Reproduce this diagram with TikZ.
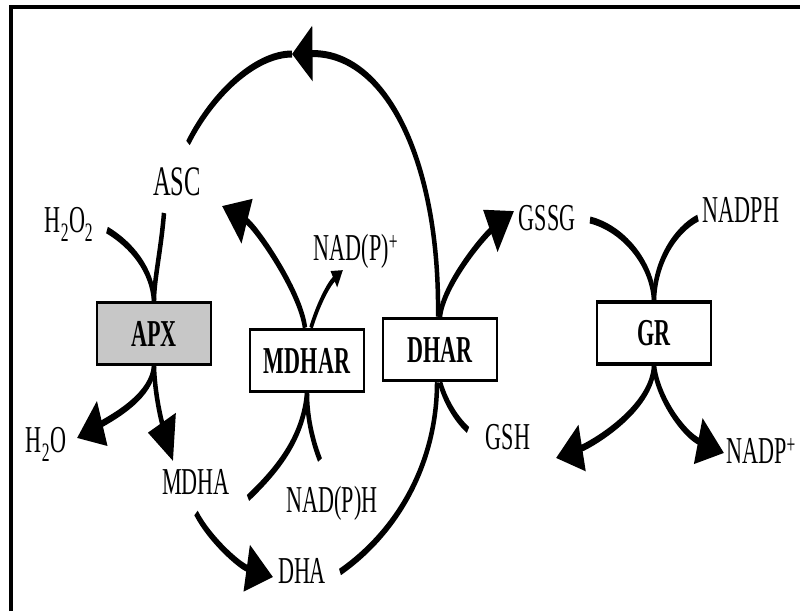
\documentclass[tikz,border=0pt]{standalone}
\usepackage{fontspec}
\setmainfont{Liberation Serif}[FakeStretch=0.91]
\usetikzlibrary{arrows.meta,calc}
\begin{document}
\begin{tikzpicture}[x=1pt,y=-1pt]
\useasboundingbox (0,0) rectangle (800,611);
\draw[line width=4pt] (10.5,611) -- (10.5,7) -- (800,7);
\begin{scope}[transform canvas={xscale=0.64}, x=1.5625pt, y=-1pt,
  lab/.style={inner sep=0pt, anchor=base, font=\fontsize{38}{42}\selectfont},
  enz/.style={draw, line width=3.5pt, minimum width=178pt, minimum height=62pt, inner sep=0pt, font=\fontsize{38}{42}\selectfont\bfseries},
  flow/.style={line width=7pt},
  arr/.style={flow, -{Triangle[length=42pt,width=46pt]}},
  smallarr/.style={line width=5.5pt, -{Triangle[length=17pt,width=18pt]}},
  toparr/.style={flow, -{Triangle[length=32pt,width=54pt]}}]
% enzymes
\node[enz, fill=black!22] (APX) at (154,333.5) {APX};
\node[enz] (MDHAR) at (307,360.5) {MDHAR};
\node[enz] (DHAR) at (440,349.5) {DHAR};
\node[enz] (GR) at (654,333) {GR};
% labels
\node[lab] (ASC) at (177,195) {\fontsize{42}{44}\selectfont ASC};
\node[lab] (H2O2) at (69,232) {H\textsubscript{2}O\textsubscript{2}};
\node[lab] (H2O) at (46,452) {H\textsubscript{2}O};
\node[lab] (MDHA) at (196,494) {MDHA};
\node[lab] (NADPp) at (356,260) {NAD(P)\textsuperscript{+}};
\node[lab] (NADPHa) at (332,512) {NAD(P)H};
\node[lab] (DHA) at (302,583) {DHA};
\node[lab] (GSSG) at (547,230) {GSSG};
\node[lab] (NADPH) at (741,222) {NADPH};
\node[lab] (GSH) at (508,449) {GSH};
\node[lab] (NADP) at (761,463) {NADP\textsuperscript{+}};
% free ends
\coordinate (ascE) at (164,213);
\coordinate (h2o2E) at (107,230);
\coordinate (h2oE) at (77,438);
\coordinate (mdhaT) at (173,461);
\coordinate (ascT) at (222,206);
\coordinate (nadpT) at (343,270);
\coordinate (mdhaE) at (248,498);
\coordinate (nadphE) at (320,460);
\coordinate (mdhaS) at (196,513);
\coordinate (dhaT) at (273,577);
\coordinate (dhaS) at (340,572);
\coordinate (gshE) at (468,430);
\coordinate (gssgT) at (514,211);
\coordinate (peak) at (292,54);
\coordinate (ascS) at (188,143);
\coordinate (gssgS) at (590,220);
\coordinate (nadphS) at (698,218);
\coordinate (gshT) at (556,458);
\coordinate (nadpT2) at (724,453);
% APX
\draw[flow] (ascE) .. controls (161,250) and (154,280) .. (APX.north);
\draw[flow] (h2o2E) .. controls (132,245) and (152,270) .. (APX.north);
\draw[arr] (APX.south) .. controls (152,395) and (117,415) .. (h2oE);
\draw[arr] (APX.south) .. controls (155,400) and (164,430) .. (mdhaT);
% MDHAR
\draw[arr] ($(MDHAR.north)+(-2,0)$) .. controls (300,290) and (255,226) .. (ascT);
\draw[smallarr] ($(MDHAR.north)+(4,0)$) .. controls (318,305) and (328,285) .. (nadpT);
\draw[flow] (mdhaE) .. controls (275,472) and (303,440) .. (MDHAR.south);
\draw[flow] (MDHAR.south) .. controls (307,420) and (314,445) .. (nadphE);
% MDHA -> DHA -> DHAR
\draw[arr] (mdhaS) .. controls (210,540) and (240,566) .. (dhaT);
\draw[flow] (dhaS) .. controls (400,530) and (437,460) .. ($(DHAR.south)+(-3,0)$);
\draw[flow] (DHAR.south) .. controls (445,400) and (455,418) .. (gshE);
% DHAR top
\draw[arr] (DHAR.north) .. controls (443,285) and (483,237) .. (gssgT);
\draw[toparr] ($(DHAR.north)+(-2,0)$) .. controls (440,160) and (385,52) .. (peak);
\draw[flow] (peak) .. controls (255,54) and (212,95) .. (ascS);
% GR
\draw[flow] (gssgS) .. controls (622,228) and (652,262) .. (GR.north);
\draw[flow] (nadphS) .. controls (675,230) and (655,262) .. (GR.north);
\draw[arr] (GR.south) .. controls (652,410) and (590,445) .. (gshT);
\draw[arr] (GR.south) .. controls (658,400) and (685,435) .. (nadpT2);
\end{scope}
\end{tikzpicture}
\end{document}
